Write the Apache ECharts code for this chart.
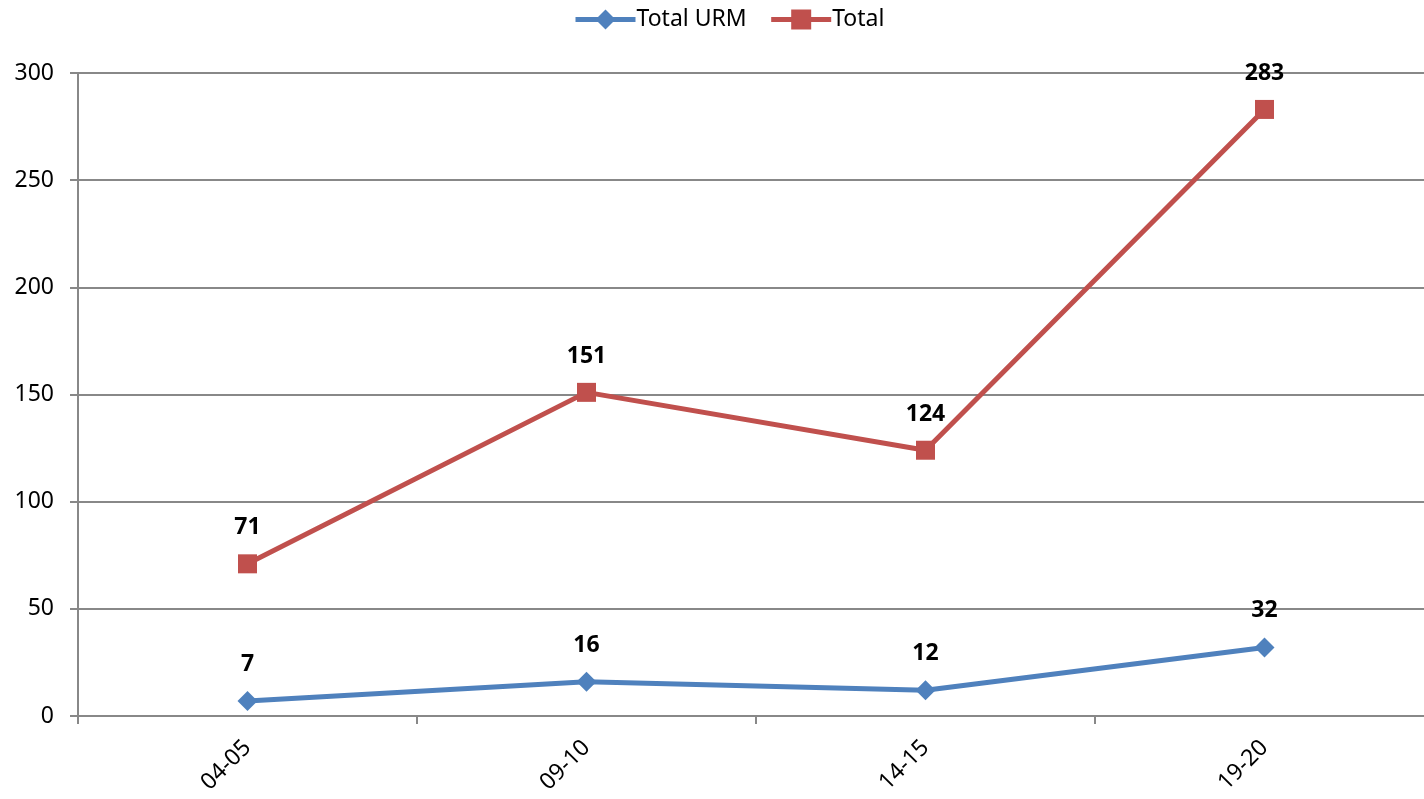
<!DOCTYPE html>
<html><head><meta charset="utf-8">
<script src="https://cdn.jsdelivr.net/npm/echarts@6/dist/echarts.min.js"></script>
<style>html,body{margin:0;padding:0;background:#fff}#c{width:1424px;height:799px}</style>
</head><body><div id="c"></div>
<script>
var categories = ['04-05', '09-10', '14-15', '19-20'];
var totalURM = [7, 16, 12, 32];
var total = [71, 151, 124, 283];
var yTicks = {min: 0, max: 300, interval: 50};

var FONT = '"Noto Sans", "Open Sans", sans-serif';
var chart = echarts.init(document.getElementById('c'), null, {renderer: 'canvas'});
var lbl = {show: true, position: 'top', distance: 15, fontFamily: FONT, fontSize: 23, fontWeight: 'bold', color: '#000'};
chart.setOption({
  animation: false,
  textStyle: {fontFamily: FONT},
  legend: {
    top: 3, left: 568, itemWidth: 60, itemHeight: 25, itemGap: 22,
    textStyle: {fontFamily: FONT, fontSize: 23, color: '#000', padding: [0, 0, 0, -4]},
    lineStyle: {width: 5},
    data: ['Total URM', 'Total']
  },
  grid: {left: 78, width: 1356, top: 73, bottom: 83, containLabel: false, outerBoundsMode: 'none'},
  xAxis: {
    type: 'category', data: categories, boundaryGap: true,
    axisLine: {lineStyle: {color: '#888', width: 2}},
    axisTick: {show: true, length: 8, lineStyle: {color: '#888', width: 2}},
    axisLabel: {rotate: 45, fontFamily: FONT, fontSize: 23, color: '#000', margin: 28}
  },
  yAxis: {
    type: 'value', min: yTicks.min, max: yTicks.max, interval: yTicks.interval,
    axisLine: {show: true, lineStyle: {color: '#888', width: 2}},
    axisTick: {show: true, length: 8, lineStyle: {color: '#888', width: 2}},
    splitLine: {lineStyle: {color: '#888', width: 2}},
    axisLabel: {fontFamily: FONT, fontSize: 23, color: '#000', margin: 24}
  },
  series: [
    {name: 'Total URM', type: 'line', data: totalURM, symbol: 'diamond', symbolSize: 20,
     lineStyle: {color: '#4F81BD', width: 5}, itemStyle: {color: '#4F81BD'}, label: lbl},
    {name: 'Total', type: 'line', data: total, symbol: 'rect', symbolSize: 19,
     lineStyle: {color: '#C0504D', width: 5}, itemStyle: {color: '#C0504D'}, label: lbl}
  ]
});
</script></body></html>
